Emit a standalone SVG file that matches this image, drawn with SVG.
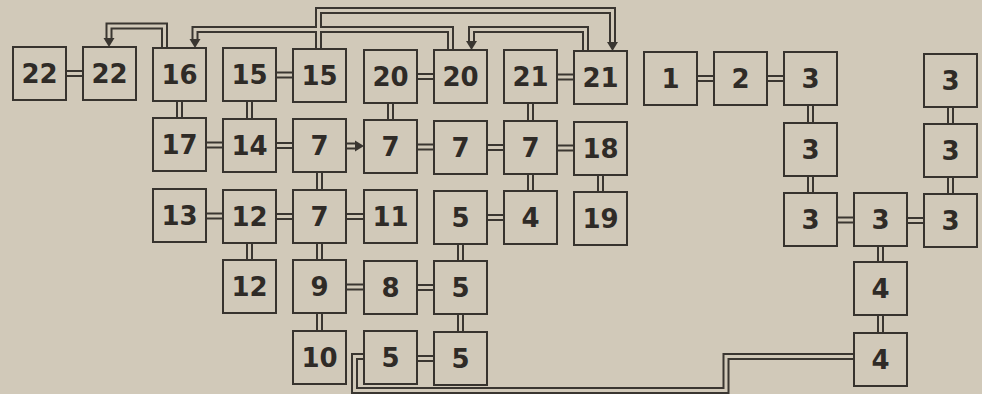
<svg xmlns="http://www.w3.org/2000/svg" xmlns:xlink="http://www.w3.org/1999/xlink" width="982" height="394" viewBox="0 0 982 394">
<style>
.bg{fill:#d1c9b9}
.box{fill:#d1c9b9;stroke:#37332e;stroke-width:2}
.lbl{font-family:"DejaVu Sans","Liberation Sans",sans-serif;font-weight:bold;font-size:26px;fill:#2f2b27;text-anchor:middle}
.outer{fill:none;stroke:#3a3631;stroke-width:7;stroke-linejoin:miter}
.inner{fill:none;stroke:#d1c9b9;stroke-width:3;stroke-linejoin:miter}
.ah{fill:#3a3631}
</style>
<defs>
<polygon id="adown" points="0,0 -5.5,-9 5.5,-9"/>
<polygon id="aright" points="0,0 -9,-5.5 -9,5.5"/>
</defs>
<rect class="bg" x="0" y="0" width="982" height="394"/>
<g id="connectors">
<g class="outer">
<path id="c1" d="M62,73.5H86"/>
<path id="c2" d="M274,75H295"/>
<path id="c3" d="M415,76.5H436"/>
<path id="c4" d="M555,77H576"/>
<path id="c5" d="M695,78.5H716"/>
<path id="c6" d="M765,78.5H786"/>
<path id="c7" d="M204,145H225"/>
<path id="c8" d="M274,145.5H295"/>
<path id="c9" d="M344,146H356"/>
<path id="c10" d="M415,147H436"/>
<path id="c11" d="M485,147.5H506"/>
<path id="c12" d="M555,148H576"/>
<path id="c13" d="M204,216H225"/>
<path id="c14" d="M274,216.5H295"/>
<path id="c15" d="M344,216.5H366"/>
<path id="c16" d="M485,217.5H506"/>
<path id="c17" d="M835,220H856"/>
<path id="c18" d="M905,220.5H926"/>
<path id="c19" d="M344,287H366"/>
<path id="c20" d="M415,287.5H436"/>
<path id="c21" d="M415,358.5H436"/>
<path id="v1" d="M179.5,99V120"/>
<path id="v2" d="M249.5,99V121"/>
<path id="v3" d="M249.5,241V262"/>
<path id="v4" d="M319.5,170V192"/>
<path id="v5" d="M319.5,241V262"/>
<path id="v6" d="M319.5,311V333"/>
<path id="v7" d="M390.5,101V122"/>
<path id="v8" d="M460.5,242V263"/>
<path id="v9" d="M460.5,312V334"/>
<path id="v10" d="M530.5,101V123"/>
<path id="v11" d="M530.5,172V193"/>
<path id="v12" d="M600.5,173V194"/>
<path id="v13" d="M810.5,103V125"/>
<path id="v14" d="M810.5,174V195"/>
<path id="v15" d="M880.5,245V264"/>
<path id="v16" d="M880.5,313V335"/>
<path id="v17" d="M950.5,105V126"/>
<path id="v18" d="M950.5,175V196"/>
<path id="l1" d="M164.5,50V26H109V38"/>
<path id="l2" d="M450.5,52V29.5H195V39"/>
<path id="l4" d="M585.5,53V29.5H471.5V41"/>
<path id="l3" d="M318.5,51V10.5H612.5V42"/>
<path id="l5" d="M856,356.5H726V390.5H354.5V356.5H366"/>
</g>
<g class="inner">
<use xlink:href="#c1"/><use xlink:href="#c2"/><use xlink:href="#c3"/><use xlink:href="#c4"/><use xlink:href="#c5"/><use xlink:href="#c6"/><use xlink:href="#c7"/><use xlink:href="#c8"/><use xlink:href="#c9"/><use xlink:href="#c10"/><use xlink:href="#c11"/><use xlink:href="#c12"/><use xlink:href="#c13"/><use xlink:href="#c14"/><use xlink:href="#c15"/><use xlink:href="#c16"/><use xlink:href="#c17"/><use xlink:href="#c18"/><use xlink:href="#c19"/><use xlink:href="#c20"/><use xlink:href="#c21"/>
<use xlink:href="#v1"/><use xlink:href="#v2"/><use xlink:href="#v3"/><use xlink:href="#v4"/><use xlink:href="#v5"/><use xlink:href="#v6"/><use xlink:href="#v7"/><use xlink:href="#v8"/><use xlink:href="#v9"/><use xlink:href="#v10"/><use xlink:href="#v11"/><use xlink:href="#v12"/><use xlink:href="#v13"/><use xlink:href="#v14"/><use xlink:href="#v15"/><use xlink:href="#v16"/><use xlink:href="#v17"/><use xlink:href="#v18"/>
<use xlink:href="#l1"/><use xlink:href="#l2"/><use xlink:href="#l4"/><use xlink:href="#l3"/><use xlink:href="#l5"/>
</g>
<g class="ah">
<use xlink:href="#adown" x="109" y="47"/>
<use xlink:href="#adown" x="195" y="48"/>
<use xlink:href="#adown" x="471.5" y="50"/>
<use xlink:href="#adown" x="612.5" y="51"/>
<use xlink:href="#aright" x="364" y="146"/>
</g>
</g>
<g id="n-22a"><rect class="box" x="13" y="47" width="53" height="53"/><text class="lbl" x="39.5" y="83">22</text></g>
<g id="n-22b"><rect class="box" x="83" y="47" width="53" height="53"/><text class="lbl" x="109.5" y="83">22</text></g>
<g id="n-16"><rect class="box" x="153" y="48" width="53" height="53"/><text class="lbl" x="179.5" y="84">16</text></g>
<g id="n-15a"><rect class="box" x="223" y="48" width="53" height="53"/><text class="lbl" x="249.5" y="84">15</text></g>
<g id="n-15b"><rect class="box" x="293" y="49" width="53" height="53"/><text class="lbl" x="319.5" y="85">15</text></g>
<g id="n-20a"><rect class="box" x="364" y="50" width="53" height="53"/><text class="lbl" x="390.5" y="86">20</text></g>
<g id="n-20b"><rect class="box" x="434" y="50" width="53" height="53"/><text class="lbl" x="460.5" y="86">20</text></g>
<g id="n-21a"><rect class="box" x="504" y="50" width="53" height="53"/><text class="lbl" x="530.5" y="86">21</text></g>
<g id="n-21b"><rect class="box" x="574" y="51" width="53" height="53"/><text class="lbl" x="600.5" y="87">21</text></g>
<g id="n-1"><rect class="box" x="644" y="52" width="53" height="53"/><text class="lbl" x="670.5" y="88">1</text></g>
<g id="n-2"><rect class="box" x="714" y="52" width="53" height="53"/><text class="lbl" x="740.5" y="88">2</text></g>
<g id="n-3a"><rect class="box" x="784" y="52" width="53" height="53"/><text class="lbl" x="810.5" y="88">3</text></g>
<g id="n-3b"><rect class="box" x="924" y="54" width="53" height="53"/><text class="lbl" x="950.5" y="90">3</text></g>
<g id="n-17"><rect class="box" x="153" y="118" width="53" height="53"/><text class="lbl" x="179.5" y="154">17</text></g>
<g id="n-14"><rect class="box" x="223" y="119" width="53" height="53"/><text class="lbl" x="249.5" y="155">14</text></g>
<g id="n-7a"><rect class="box" x="293" y="119" width="53" height="53"/><text class="lbl" x="319.5" y="155">7</text></g>
<g id="n-7b"><rect class="box" x="364" y="120" width="53" height="53"/><text class="lbl" x="390.5" y="156">7</text></g>
<g id="n-7c"><rect class="box" x="434" y="121" width="53" height="53"/><text class="lbl" x="460.5" y="157">7</text></g>
<g id="n-7d"><rect class="box" x="504" y="121" width="53" height="53"/><text class="lbl" x="530.5" y="157">7</text></g>
<g id="n-18"><rect class="box" x="574" y="122" width="53" height="53"/><text class="lbl" x="600.5" y="158">18</text></g>
<g id="n-3c"><rect class="box" x="784" y="123" width="53" height="53"/><text class="lbl" x="810.5" y="159">3</text></g>
<g id="n-3d"><rect class="box" x="924" y="124" width="53" height="53"/><text class="lbl" x="950.5" y="160">3</text></g>
<g id="n-13"><rect class="box" x="153" y="189" width="53" height="53"/><text class="lbl" x="179.5" y="225">13</text></g>
<g id="n-12a"><rect class="box" x="223" y="190" width="53" height="53"/><text class="lbl" x="249.5" y="226">12</text></g>
<g id="n-7e"><rect class="box" x="293" y="190" width="53" height="53"/><text class="lbl" x="319.5" y="226">7</text></g>
<g id="n-11"><rect class="box" x="364" y="190" width="53" height="53"/><text class="lbl" x="390.5" y="226">11</text></g>
<g id="n-5a"><rect class="box" x="434" y="191" width="53" height="53"/><text class="lbl" x="460.5" y="227">5</text></g>
<g id="n-4a"><rect class="box" x="504" y="191" width="53" height="53"/><text class="lbl" x="530.5" y="227">4</text></g>
<g id="n-19"><rect class="box" x="574" y="192" width="53" height="53"/><text class="lbl" x="600.5" y="228">19</text></g>
<g id="n-3e"><rect class="box" x="784" y="193" width="53" height="53"/><text class="lbl" x="810.5" y="229">3</text></g>
<g id="n-3f"><rect class="box" x="854" y="193" width="53" height="53"/><text class="lbl" x="880.5" y="229">3</text></g>
<g id="n-3g"><rect class="box" x="924" y="194" width="53" height="53"/><text class="lbl" x="950.5" y="230">3</text></g>
<g id="n-12b"><rect class="box" x="223" y="260" width="53" height="53"/><text class="lbl" x="249.5" y="296">12</text></g>
<g id="n-9"><rect class="box" x="293" y="260" width="53" height="53"/><text class="lbl" x="319.5" y="296">9</text></g>
<g id="n-8"><rect class="box" x="364" y="261" width="53" height="53"/><text class="lbl" x="390.5" y="297">8</text></g>
<g id="n-5b"><rect class="box" x="434" y="261" width="53" height="53"/><text class="lbl" x="460.5" y="297">5</text></g>
<g id="n-4b"><rect class="box" x="854" y="262" width="53" height="53"/><text class="lbl" x="880.5" y="298">4</text></g>
<g id="n-10"><rect class="box" x="293" y="331" width="53" height="53"/><text class="lbl" x="319.5" y="367">10</text></g>
<g id="n-5c"><rect class="box" x="364" y="331" width="53" height="53"/><text class="lbl" x="390.5" y="367">5</text></g>
<g id="n-5d"><rect class="box" x="434" y="332" width="53" height="53"/><text class="lbl" x="460.5" y="368">5</text></g>
<g id="n-4c"><rect class="box" x="854" y="333" width="53" height="53"/><text class="lbl" x="880.5" y="369">4</text></g>
</svg>
